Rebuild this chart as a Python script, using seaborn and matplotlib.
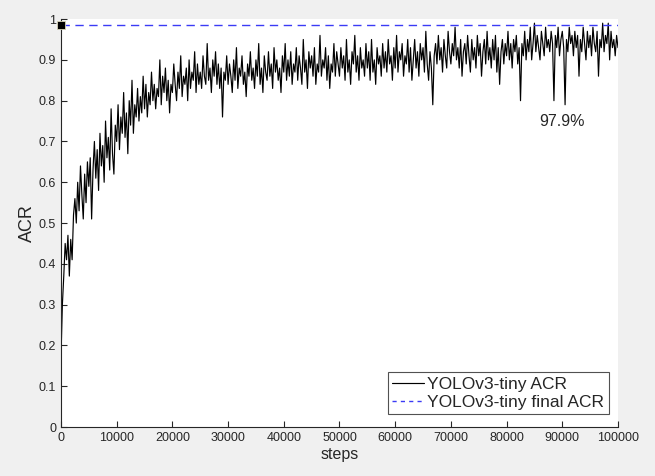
import numpy as np
import pandas as pd
import seaborn as sns
import matplotlib
matplotlib.use("Agg")
import matplotlib.pyplot as plt

steps = list(range(0, 100001, 250))
acr = [
    0.17, 0.30, 0.37, 0.45, 0.41, 0.47, 0.37, 0.46, 0.41, 0.52,
    0.56, 0.50, 0.60, 0.53, 0.64, 0.57, 0.51, 0.62, 0.55, 0.65,
    0.59, 0.66, 0.51, 0.63, 0.70, 0.61, 0.68, 0.58, 0.72, 0.64,
    0.69, 0.60, 0.75, 0.66, 0.71, 0.63, 0.78, 0.67, 0.62, 0.74,
    0.70, 0.79, 0.68, 0.76, 0.72, 0.82, 0.71, 0.77, 0.67, 0.80,
    0.74, 0.85, 0.72, 0.79, 0.76, 0.83, 0.75, 0.81, 0.77, 0.86,
    0.78, 0.84, 0.76, 0.82, 0.79, 0.87, 0.80, 0.84, 0.78, 0.83,
    0.81, 0.90, 0.79, 0.86, 0.82, 0.88, 0.80, 0.85, 0.77, 0.84,
    0.82, 0.89, 0.84, 0.80, 0.87, 0.83, 0.91, 0.81, 0.86, 0.84,
    0.88, 0.80, 0.90, 0.83, 0.87, 0.85, 0.92, 0.82, 0.89, 0.84,
    0.87, 0.83, 0.91, 0.86, 0.84, 0.94, 0.85, 0.88, 0.82, 0.90,
    0.86, 0.92, 0.84, 0.89, 0.83, 0.88, 0.76, 0.87, 0.85, 0.91,
    0.84, 0.89, 0.86, 0.82, 0.90, 0.85, 0.93, 0.83, 0.88, 0.86,
    0.91, 0.84, 0.87, 0.81, 0.89, 0.86, 0.92, 0.85, 0.88, 0.83,
    0.90, 0.86, 0.94, 0.84, 0.88, 0.82, 0.91, 0.87, 0.85, 0.92,
    0.86, 0.89, 0.83, 0.93, 0.87, 0.90, 0.85, 0.88, 0.82, 0.91,
    0.87, 0.94, 0.85, 0.90, 0.86, 0.92, 0.84, 0.89, 0.87, 0.93,
    0.85, 0.91, 0.88, 0.84, 0.95, 0.87, 0.90, 0.83, 0.92, 0.88,
    0.91, 0.86, 0.93, 0.84, 0.89, 0.87, 0.96, 0.86, 0.90, 0.88,
    0.93, 0.85, 0.91, 0.83, 0.89, 0.87, 0.94, 0.86, 0.92, 0.89,
    0.86, 0.93, 0.88, 0.91, 0.85, 0.95, 0.87, 0.90, 0.84, 0.92,
    0.89, 0.96, 0.87, 0.91, 0.85, 0.93, 0.88, 0.90, 0.86, 0.94,
    0.88, 0.92, 0.85, 0.95, 0.87, 0.90, 0.84, 0.93, 0.89, 0.91,
    0.86, 0.94, 0.88, 0.92, 0.87, 0.95, 0.89, 0.91, 0.85, 0.93,
    0.88, 0.96, 0.87, 0.92, 0.90, 0.94, 0.86, 0.91, 0.89, 0.95,
    0.87, 0.93, 0.85, 0.90, 0.95, 0.88, 0.92, 0.86, 0.94, 0.90,
    0.93, 0.87, 0.97, 0.89, 0.85, 0.92, 0.88, 0.79, 0.91, 0.94,
    0.89, 0.96, 0.90, 0.93, 0.87, 0.95, 0.91, 0.88, 0.97, 0.92,
    0.89, 0.94, 0.91, 0.98, 0.90, 0.93, 0.88, 0.95, 0.86, 0.92,
    0.94, 0.89, 0.96, 0.91, 0.87, 0.95, 0.90, 0.93, 0.88, 0.96,
    0.91, 0.94, 0.86, 0.92, 0.95, 0.89, 0.97, 0.90, 0.93, 0.88,
    0.95, 0.90, 0.96, 0.87, 0.93, 0.84, 0.92, 0.95, 0.89, 0.94,
    0.91, 0.97, 0.90, 0.94, 0.88, 0.95, 0.92, 0.96, 0.89, 0.93,
    0.80, 0.94, 0.91, 0.97, 0.90, 0.95, 0.92, 0.98, 0.90, 0.94,
    0.99, 0.92, 0.96, 0.93, 0.90, 0.97, 0.94, 0.91, 0.98, 0.93,
    0.95, 0.92, 0.97, 0.94, 0.80, 0.96, 0.93, 0.98, 0.91, 0.95,
    0.97, 0.93, 0.79, 0.95, 0.92, 0.98, 0.94, 0.96, 0.91, 0.97,
    0.93, 0.96, 0.86, 0.95, 0.92, 0.98, 0.94, 0.90, 0.97, 0.93,
    0.96, 0.91, 0.98, 0.94, 0.92, 0.97, 0.86, 0.95, 0.93, 0.99,
    0.92, 0.96, 0.94, 0.99, 0.90, 0.97, 0.93, 0.95, 0.91, 0.96,
    0.93,
]
final_acr = 0.986
final_steps = [0, 100000]
label_text = "97.9%"
label_pos = (90000, 0.75)

df = pd.DataFrame({"steps": steps, "ACR": acr})
df_final = pd.DataFrame({"steps": final_steps, "ACR": [final_acr, final_acr]})

sns.set_style("ticks")
plt.rcParams["font.family"] = ["Liberation Sans", "DejaVu Sans"]

fig = plt.figure(figsize=(6.55, 4.76), dpi=100, facecolor="#f0f0f0")
ax = fig.add_axes([0.0931, 0.1029, 0.8504, 0.857])
ax.set_facecolor("white")

sns.lineplot(data=df, x="steps", y="ACR", ax=ax, color="black", lw=0.85,
             label="YOLOv3-tiny ACR")
sns.lineplot(data=df_final, x="steps", y="ACR", ax=ax, color="#3b3bf5", lw=1.0,
             label="YOLOv3-tiny final ACR")
ax.lines[1].set_dashes([6, 4])
ax.plot([0], [final_acr], marker="s", ms=6, color="black", mec="#d8d4b8",
        mew=0.6, clip_on=False, zorder=5)
ax.text(label_pos[0], label_pos[1], label_text, ha="center", va="center",
        fontsize=11.5, color="#262626")

ax.set_xlim(0, 100000)
ax.set_ylim(0, 1)
ax.set_xticks(np.arange(0, 100001, 10000))
ax.set_yticks(np.arange(0, 1.01, 0.1))
ax.set_yticklabels(["0", "0.1", "0.2", "0.3", "0.4", "0.5", "0.6", "0.7", "0.8", "0.9", "1"])
ax.tick_params(direction="in", length=4, width=0.8, labelsize=9, colors="#262626")
ax.set_xlabel("steps", fontsize=11.5, color="#262626", labelpad=2)
ax.set_ylabel("ACR", fontsize=13, color="#262626", labelpad=2)
for s in ["top", "right"]:
    ax.spines[s].set_visible(False)
for s in ["left", "bottom"]:
    ax.spines[s].set_color("#262626")
    ax.spines[s].set_linewidth(0.8)

leg = ax.legend(loc="lower right", bbox_to_anchor=(0.983, 0.032), fontsize=12.5,
                frameon=True, fancybox=False, handlelength=1.8, handletextpad=0.2,
                borderpad=0.25, labelspacing=0.15, borderaxespad=0)
leg.get_frame().set_edgecolor("#262626")
leg.get_frame().set_linewidth(0.8)
leg.get_lines()[1].set_dashes([3, 3])

fig.savefig("out.png", dpi=100, facecolor=fig.get_facecolor())
